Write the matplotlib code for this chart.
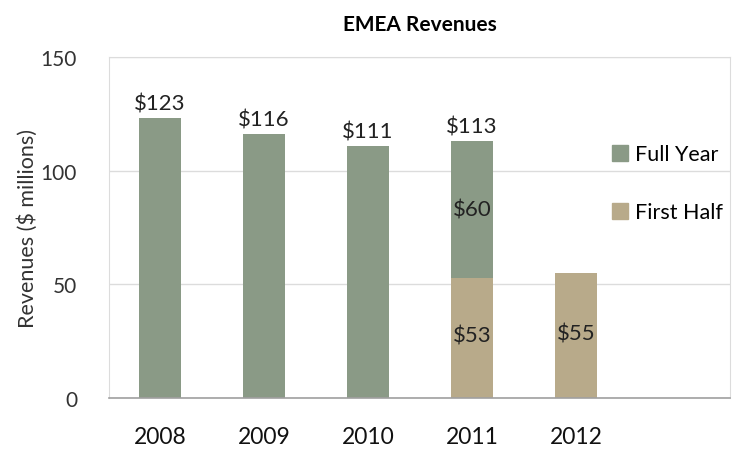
import numpy as np
import matplotlib
matplotlib.use('Agg')
import matplotlib.pyplot as plt
from matplotlib.patches import Patch

plt.rcParams['font.family'] = ['Lato', 'DejaVu Sans']

years = ['2008', '2009', '2010', '2011', '2012']
full_year = [123, 116, 111, 113, None]
first_half = [None, None, None, 53, 55]

green = '#8a9a86'
tan = '#b8aa8a'

fig = plt.figure(figsize=(7.33, 4.52), dpi=100)
ax = fig.add_axes([0.1487, 0.117, 0.847, 0.755])

x = np.arange(len(years))
w = 0.41
for i, (fy, fh) in enumerate(zip(full_year, first_half)):
    base = 0
    if fh is not None:
        ax.bar(x[i], fh, w, color=tan, zorder=2)
        ax.text(x[i], fh / 2 + 1, '$%d' % fh, ha='center', va='center', fontsize=16, color='#222222')
        base = fh
    if fy is not None:
        ax.bar(x[i], fy - base, w, bottom=base, color=green, zorder=2)
        if base:
            ax.text(x[i], base + (fy - base) / 2, '$%d' % (fy - base), ha='center', va='center',
                    fontsize=16, color='#222222')
        ax.text(x[i], fy + 2, '$%d' % fy, ha='center', va='bottom', fontsize=16, color='#222222')

ax.set_xlim(-0.49, 5.48)
ax.set_ylim(0, 150)
ax.set_yticks([0, 50, 100, 150])
ax.set_xticks(x)
ax.set_xticklabels(years, fontsize=16.5, color='#111111')
ax.tick_params(axis='y', labelsize=15, length=0, pad=23, labelcolor='#333333')
ax.tick_params(axis='x', length=0, pad=20)
ax.grid(axis='y', color='#dcdcdc', linewidth=1, zorder=0)
for s in ['left', 'top', 'right']:
    ax.spines[s].set_color('#dcdcdc')
ax.spines['bottom'].set_color('#a0a0a0')
ax.spines['bottom'].set_linewidth(1.2)

ax.set_ylabel('Revenues ($ millions)', fontsize=15.5, color='#333333', labelpad=2)
ax.set_title('EMEA Revenues', fontsize=15, fontweight='bold', pad=19)

handles = [Patch(color=green, label='Full Year'), Patch(color=tan, label='First Half')]
ax.legend(handles=handles, loc='upper left', bbox_to_anchor=(0.779, 0.80), frameon=False,
          fontsize=15.5, handlelength=0.75, handleheight=0.75, handletextpad=0.3, labelspacing=1.75)

plt.savefig('out.png')
plt.close()
